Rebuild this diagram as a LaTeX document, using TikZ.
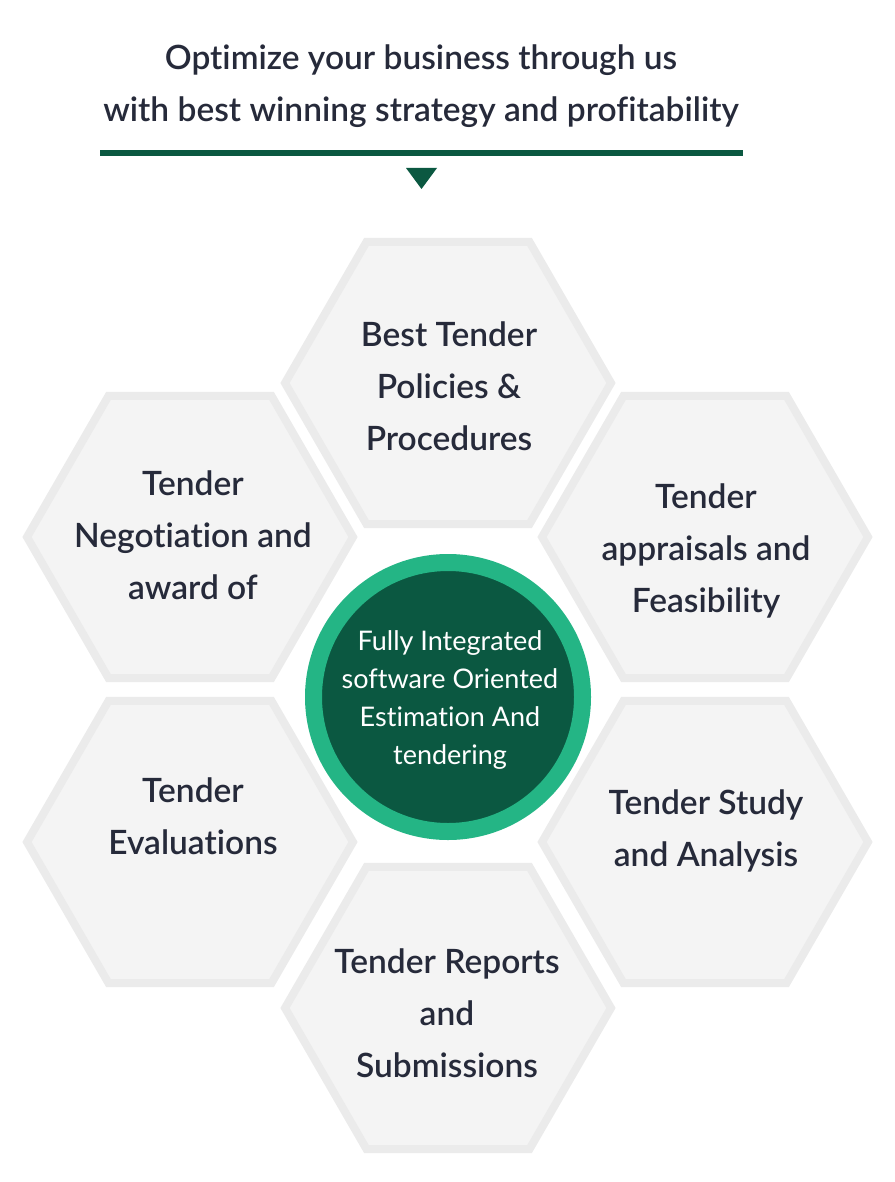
\documentclass[tikz,border=0pt]{standalone}
\usepackage{fontspec}
\setmainfont{Lato}[BoldFont={Lato Semibold},Ligatures=NoCommon]
\usetikzlibrary{shapes.geometric}
\definecolor{Ink}{HTML}{262A3A}
\definecolor{Deep}{HTML}{0B5841}
\definecolor{Ring}{HTML}{24B585}
\definecolor{Cell}{HTML}{F4F4F4}
\definecolor{CellLine}{HTML}{EBEBEB}

\begin{document}
\begin{tikzpicture}[x=1pt,y=-1pt,
    cell/.style={regular polygon,regular polygon sides=6,minimum size=326pt,
      inner sep=0pt,fill=Cell,draw=CellLine,line width=8pt},
    celltext/.style={align=center,text=Ink,font=\fontsize{33.5}{52}\selectfont\bfseries},
    hub/.style={circle,minimum size=269pt,inner sep=0pt,fill=Deep,draw=Ring,line width=17pt}
  ]
    \useasboundingbox (0,0) rectangle (894,1182);
    % heading
    \node[align=center,text=Ink,font=\fontsize{33.5}{52}\selectfont\bfseries] (title) at (421,86)
      {Optimize your business through us\\with best winning strategy and profitability};
    \coordinate (rulel) at (100,153);
    \coordinate (ruler) at (743,153);
    \draw[Deep,line width=6pt] (rulel) -- (ruler);
    \fill[Deep] (406,168) -- (437,168) -- (421.5,189) -- cycle;
    % honeycomb
    \node[cell] (policy) at (448,383) {};
    \node[cell] (negot) at (190,537) {};
    \node[cell] (apprai) at (705,537) {};
    \node[cell] (evalu) at (190,842) {};
    \node[cell] (study) at (705,842) {};
    \node[cell] (report) at (448,1008) {};
    \node[celltext] (policy-t) at (449,386) {Best Tender\\Policies \&\\Procedures};
    \node[celltext] (negot-t) at (193,535) {Tender\\Negotiation and\\award of};
    \node[celltext] (apprai-t) at (706,551) {Tender\\appraisals and\\Feasibility};
    \node[celltext] (evalu-t) at (193,816) {Tender\\Evaluations};
    \node[celltext] (study-t) at (706,831) {Tender Study\\and Analysis};
    \node[celltext] (report-t) at (447,1013) {Tender Reports\\and\\Submissions};
    % centre
    \node[hub] (core) at (448,697) {};
    \node[align=center,text=white,font=\fontsize{27}{38}\selectfont] (core-t) at (450,700)
      {Fully Integrated\\software Oriented\\Estimation And\\tendering};
\end{tikzpicture}
\end{document}
